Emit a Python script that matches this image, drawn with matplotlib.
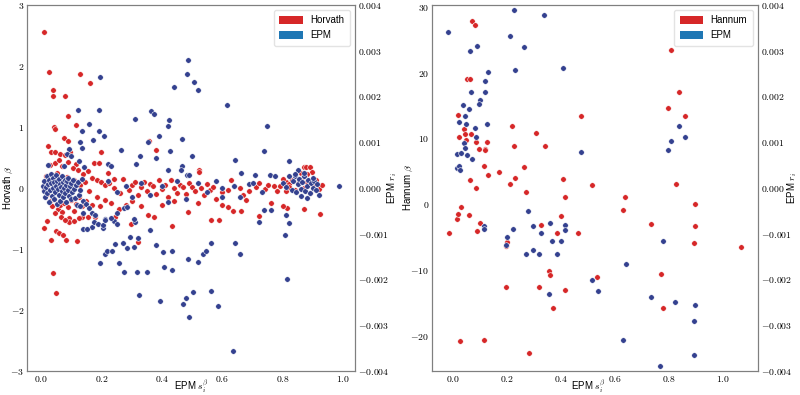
import numpy as np
import matplotlib
matplotlib.use("Agg")
import matplotlib.pyplot as plt
from matplotlib.patches import Patch
from matplotlib.ticker import FuncFormatter

plt.rcParams['font.family'] = ['Liberation Sans', 'DejaVu Sans']
plt.rcParams['mathtext.fontset'] = 'cm'

# ---- left panel: Horvath beta vs EPM s_i^beta ----
horvath_s = [
    0.011, 0.026, 0.039, 0.038, 0.079, 0.044, 0.047, 0.089, 0.130, 0.161, 0.117, 0.022, 0.077, 0.090,
    0.032, 0.045, 0.063, 0.078, 0.095, 0.115, 0.175, 0.193, 0.198, 0.379, 0.357, 0.522, 0.524, 0.869,
    0.877, 0.891, 0.896, 0.880, 0.811, 0.820,
    0.030, 0.046, 0.058, 0.070, 0.088, 0.105, 0.122, 0.140, 0.155, 0.168, 0.185, 0.200, 0.210, 0.225,
    0.240, 0.016, 0.052, 0.085, 0.110, 0.130, 0.145, 0.160,
    0.22, 0.24, 0.26, 0.27, 0.29, 0.30, 0.31, 0.32, 0.33, 0.34, 0.35, 0.36, 0.37, 0.38, 0.39, 0.40,
    0.41, 0.42, 0.43, 0.44, 0.45, 0.46, 0.47, 0.48, 0.49, 0.50, 0.51, 0.53, 0.54, 0.55, 0.56, 0.57,
    0.58, 0.60, 0.62, 0.63, 0.64, 0.66, 0.67, 0.69, 0.71, 0.72, 0.74, 0.75, 0.77, 0.78, 0.79,
    0.80, 0.81, 0.82, 0.83, 0.84, 0.85, 0.86, 0.87, 0.88, 0.89, 0.90, 0.91, 0.92, 0.93, 0.86, 0.87,
    0.039, 0.050, 0.011, 0.049, 0.060, 0.072, 0.032, 0.082, 0.118, 0.320, 0.297, 0.435, 0.563, 0.588,
    0.663, 0.723, 0.871, 0.922, 0.488, 0.245, 0.179, 0.156, 0.137, 0.094, 0.094, 0.258, 0.353, 0.374,
    0.620, 0.637, 0.813,
    0.020, 0.028, 0.035, 0.042, 0.055, 0.062, 0.068, 0.075, 0.090, 0.100, 0.108, 0.115, 0.125, 0.135,
    0.150, 0.170, 0.185, 0.195, 0.210, 0.230, 0.045, 0.065, 0.080, 0.110, 0.125, 0.020, 0.015, 0.008,
    0.28, 0.30, 0.33, 0.40, 0.44, 0.52, 0.60, 0.68, 0.76, 0.80,
]
horvath_beta = [
    2.56, 1.89, 1.61, 1.51, 1.51, 0.99, 0.96, 1.17, 1.86, 1.72, 1.03, 0.69, 0.81, 0.77,
    0.59, 0.58, 0.55, 0.54, 0.58, 0.39, 0.41, 0.41, 0.59, 0.62, 0.77, 0.29, 0.26, 0.34,
    0.34, 0.34, 0.26, 0.22, 0.09, 0.07,
    0.38, 0.40, 0.45, 0.36, 0.42, 0.33, 0.30, 0.22, 0.28, 0.16, 0.12, 0.10, 0.05, 0.08,
    0.15, 0.20, 0.25, 0.18, 0.12, 0.05, 0.10, -0.05,
    0.25, 0.00, -0.08, 0.14, -0.03, 0.05, 0.09, -0.12, 0.02, 0.10, -0.06, 0.06, 0.03, -0.10, 0.12, -0.02,
    0.05, -0.15, 0.13, 0.00, -0.08, 0.04, 0.02, -0.10, 0.08, 0.01, -0.05, 0.00, -0.12, 0.06, -0.03, 0.02,
    -0.18, -0.07, -0.03, 0.12, 0.03, 0.00, -0.12, -0.05, 0.02, 0.08, -0.02, 0.05, 0.03, -0.05, 0.03,
    0.15, -0.05, 0.02, 0.12, -0.03, 0.08, 0.15, 0.00, 0.10, -0.08, 0.05, 0.12, -0.02, 0.05, 0.25, 0.20,
    -1.39, -1.72, -0.66, -0.70, -0.74, -0.77, -0.86, -0.86, -0.87, -0.89, -0.59, -0.63, -0.52, -0.53,
    -0.38, -0.46, -0.35, -0.43, -0.40, -0.48, -0.47, -0.47, -0.47, -0.49, -0.56, -0.34, -0.44, -0.47,
    -0.32, -0.38, -0.33,
    -0.10, -0.22, -0.30, -0.18, -0.35, -0.28, -0.40, -0.25, -0.32, -0.20, -0.38, -0.27, -0.15, -0.30,
    -0.22, -0.28, -0.15, -0.30, -0.20, -0.25, -0.42, -0.48, -0.52, -0.55, -0.50, -0.55, 0.05, -0.03,
    -0.28, -0.22, -0.30, -0.28, -0.22, -0.25, -0.28, -0.20, -0.25, -0.30,
]

# EPM r_i (in units of 1e-3) for the left panel
epm_left_s = [
    0.488, 0.482, 0.507, 0.521, 0.439, 0.196, 0.615, 0.747, 0.123, 0.192, 0.363, 0.374, 0.311, 0.425,
    0.419, 0.389, 0.160, 0.137, 0.193, 0.208, 0.172, 0.130, 0.136, 0.093, 0.354, 0.467, 0.428, 0.263,
    0.328, 0.379, 0.500, 0.738, 0.642, 0.820, 0.315, 0.220, 0.024, 0.077, 0.087, 0.100, 0.126, 0.143,
    0.233, 0.467, 0.462, 0.482, 0.489, 0.421, 0.662, 0.709, 0.759, 0.774, 0.850, 0.841, 0.687, 0.599,
    0.985,
    0.637, 0.489, 0.470, 0.480, 0.394, 0.504, 0.563, 0.587, 0.325, 0.813, 0.194, 0.258, 0.276, 0.319,
    0.351, 0.406, 0.435, 0.487, 0.519, 0.536, 0.546, 0.210, 0.217, 0.234, 0.245, 0.270, 0.284, 0.306,
    0.296, 0.322, 0.381, 0.402, 0.435, 0.563, 0.643, 0.657, 0.809, 0.821, 0.811, 0.739, 0.760, 0.720,
    0.359, 0.311, 0.307, 0.210, 0.205, 0.170, 0.140, 0.153, 0.242, 0.252, 0.275, 0.283,
    0.005, 0.008, 0.010, 0.012, 0.015, 0.018, 0.020, 0.022, 0.025, 0.027, 0.030, 0.032, 0.034, 0.036,
    0.038, 0.040, 0.042, 0.044, 0.046, 0.048, 0.050, 0.052, 0.054, 0.056, 0.058, 0.060, 0.062, 0.064,
    0.066, 0.068, 0.070, 0.072, 0.074, 0.076, 0.078, 0.080, 0.082, 0.084, 0.086, 0.088, 0.090, 0.092,
    0.095, 0.098, 0.100, 0.103, 0.106, 0.109, 0.112, 0.115, 0.118, 0.122, 0.126, 0.130, 0.135, 0.140,
    0.150, 0.160, 0.170, 0.180, 0.140, 0.130, 0.175, 0.190, 0.205, 0.210, 0.230, 0.250,
    0.22, 0.25, 0.28, 0.30, 0.33, 0.36, 0.40, 0.42, 0.45, 0.48, 0.52, 0.55, 0.58, 0.60, 0.64, 0.66,
    0.70, 0.73,
    0.800, 0.810, 0.820, 0.830, 0.835, 0.840, 0.845, 0.850, 0.855, 0.860, 0.865, 0.870, 0.875, 0.880,
    0.885, 0.890, 0.895, 0.900, 0.905, 0.910, 0.915, 0.920, 0.860, 0.880, 0.870, 0.900,
]
epm_left_r_milli = [
    2.79, 2.48, 2.31, 2.14, 2.20, 2.43, 1.80, 1.34, 1.71, 1.71, 1.67, 1.61, 1.50, 1.49,
    1.34, 1.14, 1.40, 1.25, 1.25, 1.14, 1.04, 1.01, 0.87, 0.85, 1.01, 1.06, 0.81, 0.83,
    0.70, 0.65, 0.70, 0.80, 0.60, 0.59, 0.51, 0.51, 0.50, 0.48, 0.73, 0.69, 0.59, 0.45,
    0.48, 0.48, 0.40, 0.29, 0.29, 0.40, 0.33, 0.29, 0.29, 0.25, 0.39, 0.25, 0.09, 0.00,
    0.04,
    -3.57, -2.83, -2.54, -2.40, -2.48, -2.27, -2.25, -2.58, -2.35, -1.99, -1.64, -1.64, -1.83, -1.84,
    -1.83, -1.73, -1.79, -1.55, -1.61, -1.45, -1.39, -1.44, -1.37, -1.37, -1.23, -1.20, -1.31, -1.29,
    -1.08, -1.09, -1.24, -1.40, -1.39, -1.20, -1.20, -1.44, -1.04, -0.77, -0.59, -0.49, -0.49, -0.75,
    -0.92, -0.75, -0.69, -0.69, -0.87, -0.85, -0.89, -0.89, -0.73, -0.79, -0.44, -0.42,
    0.05, -0.08, 0.15, -0.20, 0.02, 0.25, -0.12, 0.08, -0.30, 0.18, -0.05, 0.30, 0.10, -0.18,
    0.00, 0.22, -0.25, 0.12, -0.10, 0.05, 0.28, -0.35, 0.15, -0.02, 0.20, -0.15, 0.08, -0.28,
    0.02, 0.25, -0.08, 0.12, -0.20, 0.00, 0.18, -0.12, 0.06, -0.32, 0.14, -0.05, 0.22, -0.18,
    0.04, -0.25, 0.10, -0.10, 0.16, -0.03, -0.22, 0.06, -0.38, 0.12, -0.15, -0.05, 0.20, -0.28,
    -0.35, -0.45, -0.55, -0.60, -0.55, -0.40, -0.75, -0.80, -0.82, -0.70, -0.65, -0.55,
    0.15, -0.10, 0.05, -0.20, 0.10, -0.15, 0.05, -0.30, 0.15, -0.25, 0.10, -0.10, 0.15, -0.20, 0.05, -0.20,
    0.10, -0.10,
    0.10, 0.02, 0.25, -0.05, 0.15, 0.30, -0.10, 0.08, 0.20, -0.02, 0.12, 0.25, -0.08, 0.05,
    0.18, -0.12, 0.10, 0.00, 0.15, -0.05, 0.08, -0.15, -0.18, -0.22, 0.32, 0.22,
]

# ---- right panel: Hannum beta vs EPM s_i^beta ----
hannum_s = [
    0.069, 0.081, 0.049, 0.063, 0.016, 0.022, 0.041, 0.044, 0.064, 0.046, 0.083, 0.123, 0.094, 0.116,
    0.116, 0.226, 0.219, 0.306, 0.338, 0.474, 0.115, 0.130, 0.168, 0.260, 0.230, 0.211, 0.063, 0.083,
    0.269, 0.407, 0.514, 0.414, 0.637, 0.805, 0.837, 0.794, 0.856, 0.823,
    -0.017, 0.012, 0.019, 0.030, 0.058, 0.100, 0.089, 0.194, 0.199, 0.195, 0.323, 0.317, 0.353, 0.357,
    0.368, 0.399, 0.385, 0.462, 0.412, 0.533, 0.026, 0.112, 0.279, 0.628, 0.732, 0.768, 0.777, 0.893,
    0.895, 0.891, 1.065,
]
hannum_beta = [
    27.9, 27.2, 19.0, 19.0, 13.6, 10.2, 11.5, 10.6, 10.6, 9.7, 9.4, 9.4, 8.4, 8.4,
    8.2, 8.9, 11.9, 10.8, 8.8, 13.4, 5.8, 4.4, 4.9, 5.7, 4.0, 3.1, 3.7, 2.5,
    1.8, 3.9, 2.9, 1.1, 1.1, 23.5, 17.0, 14.6, 13.4, 3.1,
    -4.4, -2.2, -1.5, -0.4, -1.7, -2.8, -4.1, -6.4, -5.7, -12.5, -3.2, -12.6, -10.2, -10.8,
    -15.7, -1.8, -4.4, -4.3, -13.0, -11.1, -20.7, -20.6, -22.6, -0.8, -3.0, -10.6, -15.8, 0.0,
    -3.3, -5.9, -6.5,
]
epm_right_s = [
    -0.019, 0.225, 0.337, 0.211, 0.260, 0.063, 0.088, 0.228, 0.407, 0.130, 0.116, 0.064, 0.116, 0.100,
    0.094, 0.037, 0.057, 0.044, 0.021, 0.046, 0.123, 0.081, 0.083, 0.041, 0.043, 0.015, 0.030, 0.052,
    0.069, 0.014, 0.020, 0.026, 0.473, 0.795, 0.805, 0.837, 0.856,
    0.277, 0.114, 0.112, 0.220, 0.200, 0.195, 0.295, 0.325, 0.357, 0.412, 0.415, 0.367, 0.398, 0.294,
    0.270, 0.316, 0.384, 0.638, 0.512, 0.535, 0.356, 0.731, 0.822, 0.894, 0.890, 0.628, 0.891, 0.765,
    0.777,
]
epm_right_r_milli = [
    3.40, 3.88, 3.78, 3.32, 3.08, 3.00, 3.09, 2.58, 2.61, 2.52, 2.34, 2.10, 2.09, 1.92,
    1.84, 1.81, 1.72, 1.58, 1.43, 1.40, 1.39, 1.31, 1.10, 0.98, 0.86, 0.73, 0.76, 0.71,
    0.64, 0.44, 0.47, 0.40, 0.78, 0.82, 1.03, 1.36, 1.11,
    -0.50, -0.84, -0.91, -0.89, -1.08, -1.26, -0.84, -0.98, -0.76, -0.81, -0.93, -1.16, -1.16, -1.35,
    -1.45, -1.45, -1.45, -1.66, -2.02, -2.26, -2.31, -2.39, -2.50, -2.55, -2.91, -3.32, -3.66, -3.89,
    -1.16,
]

RED = '#d62728'
DOT_BLUE = '#34418f'
LEG_BLUE = '#1f77b4'
SPINE = '#7f7f7f'

fig = plt.figure(figsize=(8, 3.95), dpi=100)
ax_l = fig.add_axes([0.034, 0.061, 0.41, 0.927])
ax_r = fig.add_axes([0.54, 0.061, 0.4075, 0.927])


def style(ax):
    for sp in ax.spines.values():
        sp.set_color(SPINE)
    ax.tick_params(length=0, pad=2.0, labelsize=7)


def panel(ax, xs, ys, bs, rs, name, xlim, ylim, yticks, ylab_x, rlab_x, xlab_x):
    ax.scatter(xs, ys, s=16, color=RED, edgecolors='white', linewidths=0.4, zorder=3)
    ax.set_xlim(*xlim)
    ax.set_ylim(*ylim)
    ax.set_xticks([0.0, 0.2, 0.4, 0.6, 0.8, 1.0])
    ax.set_yticks(yticks)
    ax.xaxis.set_major_formatter(FuncFormatter(lambda v, p: f'${v:.1f}$'))
    ax.yaxis.set_major_formatter(FuncFormatter(lambda v, p: f'${v:.0f}$'))
    ax.set_xlabel(r'EPM $s_i^\beta$', fontsize=7, va='center')
    ax.xaxis.set_label_coords(xlab_x, -0.042)
    ax.set_ylabel(name + r' $\beta$', fontsize=7, va='center')
    ax.yaxis.set_label_coords(ylab_x, 0.5)
    style(ax)
    tw = ax.twinx()
    tw.scatter(bs, np.array(rs) * 1e-3, s=16, color=DOT_BLUE, edgecolors='white',
               linewidths=0.4, zorder=3)
    tw.set_ylim(-0.004, 0.004)
    tw.set_yticks([-0.004, -0.003, -0.002, -0.001, 0.0, 0.001, 0.002, 0.003, 0.004])
    tw.yaxis.set_major_formatter(FuncFormatter(lambda v, p: f'${v:.3f}$'))
    tw.set_ylabel(r'EPM $r_i$', fontsize=7, va='center')
    tw.yaxis.set_label_coords(rlab_x, 0.5)
    style(tw)
    handles = [Patch(facecolor=RED, label=name), Patch(facecolor=LEG_BLUE, label='EPM')]
    tw.legend(handles=handles, loc='upper right', fontsize=7, handlelength=2.4,
              handleheight=0.9, frameon=True, edgecolor='#dddddd', fancybox=True,
              borderpad=0.6, labelspacing=0.5)


panel(ax_l, horvath_s, horvath_beta, epm_left_s, epm_left_r_milli, 'Horvath',
      (-0.046, 1.04), (-3, 3), [-3, -2, -1, 0, 1, 2, 3], -0.058, 1.114, 0.5)
panel(ax_r, hannum_s, hannum_beta, epm_right_s, epm_right_r_milli, 'Hannum',
      (-0.079, 1.128), (-25.3, 30.3), [-20, -10, 0, 10, 20, 30], -0.074, 1.105, 0.48)

fig.savefig('out.png', dpi=100)
